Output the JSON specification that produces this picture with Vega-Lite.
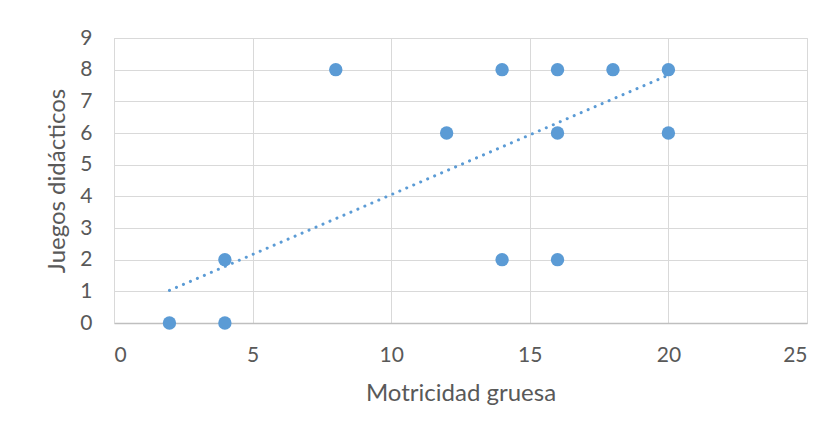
{
  "$schema": "https://vega.github.io/schema/vega-lite/v6.json",
  "width": 693,
  "height": 285,
  "autosize": {"type": "none"},
  "padding": {"left": 114, "top": 38, "right": 29, "bottom": 112},
  "background": "white",
  "config": {
    "view": {"stroke": "#d9d9d9", "strokeWidth": 1},
    "font": "Lato"
  },
  "datasets": {
    "points": [
      {"motricidad": 2, "juegos": 0},
      {"motricidad": 4, "juegos": 0},
      {"motricidad": 4, "juegos": 2},
      {"motricidad": 8, "juegos": 8},
      {"motricidad": 12, "juegos": 6},
      {"motricidad": 14, "juegos": 8},
      {"motricidad": 14, "juegos": 2},
      {"motricidad": 16, "juegos": 8},
      {"motricidad": 16, "juegos": 6},
      {"motricidad": 16, "juegos": 2},
      {"motricidad": 18, "juegos": 8},
      {"motricidad": 20, "juegos": 8},
      {"motricidad": 20, "juegos": 6}
    ],
    "trend": [
      {"motricidad": 2, "juegos": 1.03},
      {"motricidad": 20, "juegos": 7.83}
    ]
  },
  "encoding": {
    "x": {
      "field": "motricidad",
      "type": "quantitative",
      "scale": {"domain": [0, 25], "nice": false, "zero": true},
      "axis": {
        "title": "Motricidad gruesa",
        "values": [0, 5, 10, 15, 20, 25],
        "grid": true,
        "gridColor": "#d9d9d9",
        "gridWidth": 1,
        "domain": true,
        "domainColor": "#bfbfbf",
        "domainWidth": 1.5,
        "ticks": false,
        "labelPadding": 21,
        "labelFontSize": 21,
        "labelColor": "#595959",
        "labelFont": "Lato",
        "titleFontSize": 24,
        "titleFontWeight": "normal",
        "titleColor": "#595959",
        "titleFont": "Lato",
        "titlePadding": 16
      }
    },
    "y": {
      "field": "juegos",
      "type": "quantitative",
      "scale": {"domain": [0, 9], "nice": false},
      "axis": {
        "title": "Juegos didácticos",
        "values": [0, 1, 2, 3, 4, 5, 6, 7, 8, 9],
        "grid": true,
        "gridColor": "#d9d9d9",
        "gridWidth": 1,
        "domain": true,
        "domainColor": "#d9d9d9",
        "ticks": false,
        "labelPadding": 22,
        "labelFontSize": 21,
        "labelColor": "#595959",
        "labelFont": "Lato",
        "titleFontSize": 24,
        "titleFontWeight": "normal",
        "titleColor": "#595959",
        "titleFont": "Lato",
        "titlePadding": 10
      }
    }
  },
  "layer": [
    {
      "data": {"name": "trend"},
      "mark": {
        "type": "line",
        "color": "#5b9bd5",
        "strokeWidth": 3,
        "strokeDash": [0.1, 7.5],
        "strokeCap": "round"
      },
      "encoding": {}
    },
    {
      "data": {"name": "points"},
      "mark": {"type": "circle", "color": "#5b9bd5", "opacity": 1, "size": 180},
      "encoding": {}
    }
  ]
}
